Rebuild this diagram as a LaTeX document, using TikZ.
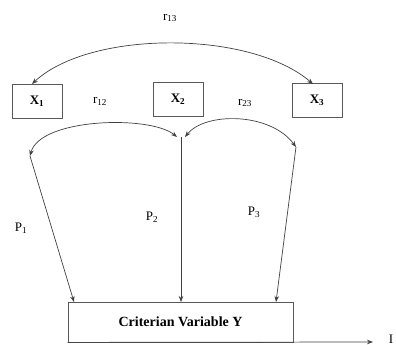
\documentclass[tikz,border=0pt]{standalone}
\usepackage{fontspec}
\setmainfont{Liberation Serif}
\usetikzlibrary{arrows.meta}
\begin{document}
\begin{tikzpicture}[x=1pt,y=-1pt,
  box/.style={draw=black!65, line width=0.8pt, minimum width=50pt, minimum height=34pt, inner sep=0pt, font=\fontsize{13}{15}\selectfont\bfseries},
  lbl/.style={font=\fontsize{13}{15}\selectfont, inner sep=0pt},
  tip/.tip={Stealth[length=6pt,width=4.5pt]},
  conn/.style={draw=black!75, line width=0.7pt, -tip},
  dconn/.style={draw=black!75, line width=0.7pt, tip-tip}]
\useasboundingbox (0,0) rectangle (396,345);
% boxes
\node[box] (x1) at (37,101) {X\textsubscript{1}};
\node[box] (x2) at (178,99.5) {X\textsubscript{2}};
\node[box] (x3) at (317,100) {X\textsubscript{3}};
\node[box, minimum width=225pt, minimum height=40pt, font=\fontsize{14}{16}\selectfont\bfseries] (y) at (180.5,322) {Criterian Variable Y};
% labels
\node[lbl] (r13) at (170,18) {r\textsubscript{13}};
\node[lbl] (r12) at (100,101) {r\textsubscript{12}};
\node[lbl] (r23) at (245,103) {r\textsubscript{23}};
\node[lbl] (p1) at (21,228) {P\textsubscript{1}};
\node[lbl] (p2) at (152,217) {P\textsubscript{2}};
\node[lbl] (p3) at (254,212) {P\textsubscript{3}};
\node[lbl] (ilbl) at (391,339) {I};
% coordinates
\coordinate (t1) at (32,84);
\coordinate (t3) at (313,84);
\coordinate (a) at (30,156);
\coordinate (b) at (181,137);
\coordinate (bl) at (177,137);
\coordinate (br) at (185,137);
\coordinate (c) at (296,147);
\coordinate (y1) at (74,302);
\coordinate (y2) at (181,302);
\coordinate (y3) at (276,302);
\coordinate (yend) at (373,342);
% arcs
\draw[dconn] (t1) .. controls (90,30) and (250,30) .. (t3);
\draw[dconn] (a) .. controls (40,118) and (150,115) .. (bl);
\draw[dconn] (br) .. controls (205,112) and (270,112) .. (c);
% paths
\draw[conn] (a) -- (y1);
\draw[conn] (b) -- (y2);
\draw[conn] (c) -- (y3);
\draw[conn] (y.south west) -- (yend);
\end{tikzpicture}
\end{document}
